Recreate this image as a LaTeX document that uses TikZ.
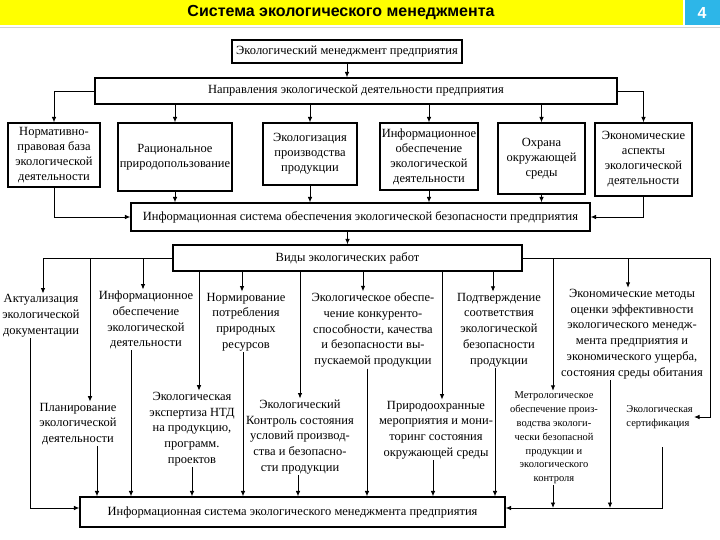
\documentclass[tikz,border=0pt]{standalone}
\usepackage{fontspec}
\setmainfont{Liberation Serif}
\newfontfamily\hdfont{Liberation Sans}
\usetikzlibrary{arrows.meta,calc}
\definecolor{hdblue}{RGB}{45,182,232}
\definecolor{hdyellow}{RGB}{255,255,0}
\begin{document}
\begin{tikzpicture}[x=1pt,y=-1pt,
  box/.style={draw,line width=1.1pt,align=center,inner sep=0.5pt,font=\fontsize{12.5}{15}\selectfont},
  txt/.style={align=center,inner sep=1pt,font=\fontsize{12.5}{15.8}\selectfont},
  sml/.style={align=center,inner sep=1pt,font=\fontsize{10.5}{13.8}\selectfont},
  arr/.style={-{Latex[length=5.5pt,width=4.5pt]},line width=0.9pt},
  ln/.style={line width=0.9pt}]
\useasboundingbox (0,0) rectangle (720,540);
\fill[white] (0,0) rectangle (720,540);
% header
\fill[hdyellow] (0,0) rectangle (683,25);
\fill[hdblue] (685,0) rectangle (720,25);
\draw[gray!35,line width=1pt] (0,28) -- (720,28);
\node[font=\hdfont\bfseries\fontsize{16}{18}\selectfont] (title) at (341,13) {Система экологического менеджмента};
\node[font=\hdfont\bfseries\fontsize{16}{18}\selectfont,text=white] (num) at (702,13) {4};
% top boxes
\node[box,minimum width=230,minimum height=23] (A) at (347,51.5) {Экологический менеджмент предприятия};
\node[box,minimum width=522,minimum height=26] (B) at (356,91) {Направления экологической деятельности предприятия};
\node[box,minimum width=92,minimum height=64] (R1) at (54,155) {Нормативно-\\правовая база\\экологической\\деятельности};
\node[box,minimum width=114,minimum height=68] (R2) at (175,157) {Рациональное\\природопользование};
\node[box,minimum width=94,minimum height=62] (R3) at (310,154) {Экологизация\\производства\\продукции};
\node[box,minimum width=98,minimum height=67] (R4) at (429,156.5) {Информационное\\обеспечение\\экологической\\деятельности};
\node[box,minimum width=87,minimum height=71] (R5) at (541.5,158.5) {Охрана\\окружающей\\среды};
\node[box,minimum width=97,minimum height=73] (R6) at (643.5,159.5) {Экономические\\аспекты\\экологической\\деятельности};
\node[box,minimum width=459,minimum height=28] (C) at (360.5,217) {Информационная система обеспечения экологической безопасности предприятия};
\node[box,minimum width=349,minimum height=26] (D) at (347.5,258) {Виды экологических работ};
\node[box,minimum width=425,minimum height=30] (E) at (292.5,512) {Информационная система экологического менеджмента предприятия};
% lower texts
\node[txt] (L1) at (41,316) {Актуализация\\экологической\\документации};
\node[txt] (L2) at (146,320) {Информационное\\обеспечение\\экологической\\деятельности};
\node[txt] (L3) at (246,322) {Нормирование\\потребления\\природных\\ресурсов};
\node[txt] (L4) at (373,330) {Экологическое обеспе-\\чение конкуренто-\\способности, качества\\и безопасности вы-\\пускаемой продукции};
\node[txt] (L5) at (499,330) {Подтверждение\\соответствия\\экологической\\безопасности\\продукции};
\node[txt] (L6) at (632,334) {Экономические методы\\оценки эффективности\\экологического менедж-\\мента предприятия и\\экономического ущерба,\\состояния среды обитания};
\node[txt] (M1) at (78,424) {Планирование\\экологической\\деятельности};
\node[txt] (M2) at (192,429) {Экологическая\\экспертиза НТД\\на продукцию,\\программ.\\проектов};
\node[txt] (M3) at (300,437) {Экологический\\Контроль состояния\\условий производ-\\ства и безопасно-\\сти продукции};
\node[txt] (M4) at (436,430) {Природоохранные\\мероприятия и мони-\\торинг состояния\\окружающей среды};
\node[sml] (M5) at (554,438) {Метрологическое\\обеспечение произ-\\водства экологи-\\чески безопасной\\продукции и\\экологического\\контроля};
\node[sml,align=left,anchor=east] (M6) at (694,417) {Экологическая\\сертификация};
% connectors top
\draw[arr] (A.south) -- (A.south |- B.north);
\draw[arr] (B.west) -| (R1.north);
\foreach \n in {R2,R3,R4,R5} \draw[arr] (\n.north |- B.south) -- (\n.north);
\draw[arr] (B.east) -| (R6.north);
\draw[arr] (R1.south) |- (C.west);
\foreach \n in {R2,R3,R4,R5} \draw[arr] (\n.south) -- (\n.south |- C.north);
\draw[arr] (R6.south) |- (C.east);
\draw[arr] (D.north |- C.south) -- (D.north);
% connectors from D
\coordinate (j1) at (90,258);
\draw[arr] (D.west) -| (43,0 |- L1.north);
\draw[arr] (j1) -- (j1 |- M1.north);
\draw[arr] (143,0 |- D.west) -- (143,0 |- L2.north);
\foreach \xx/\n in {199/M2, 242/L3, 300/M3, 363/L4, 442/M4, 493/L5}
  \draw[arr] (\xx,0 |- D.south) -- (\xx,0 |- \n.north);
\draw[arr] (D.east) -- (710,0 |- D.east) |- (M6.east);
\draw[arr] (553,0 |- D.east) -- (553,0 |- M5.north);
\draw[arr] (628,0 |- D.east) -- (628,0 |- L6.north);
% connectors to E
\coordinate (eW) at ($(E.west)+(0,-4)$);
\coordinate (eE) at ($(E.east)+(0,-4)$);
\draw[arr] (30,0 |- L1.south) |- (eW);
\foreach \xx/\n in {97/M1, 131/L2, 192/M2, 243/L3, 298/M3, 367/L4, 433/M4, 495/L5}
  \draw[arr] (\xx,0 |- \n.south) -- (\xx,0 |- E.north);
\coordinate (m6b) at (662,447);
\draw[arr] (m6b) |- (eE);
\draw[arr] (553,0 |- M5.south) -- (553,0 |- eE);
\draw[arr] (610,0 |- L6.south) -- (610,0 |- eE);
\end{tikzpicture}
\end{document}
